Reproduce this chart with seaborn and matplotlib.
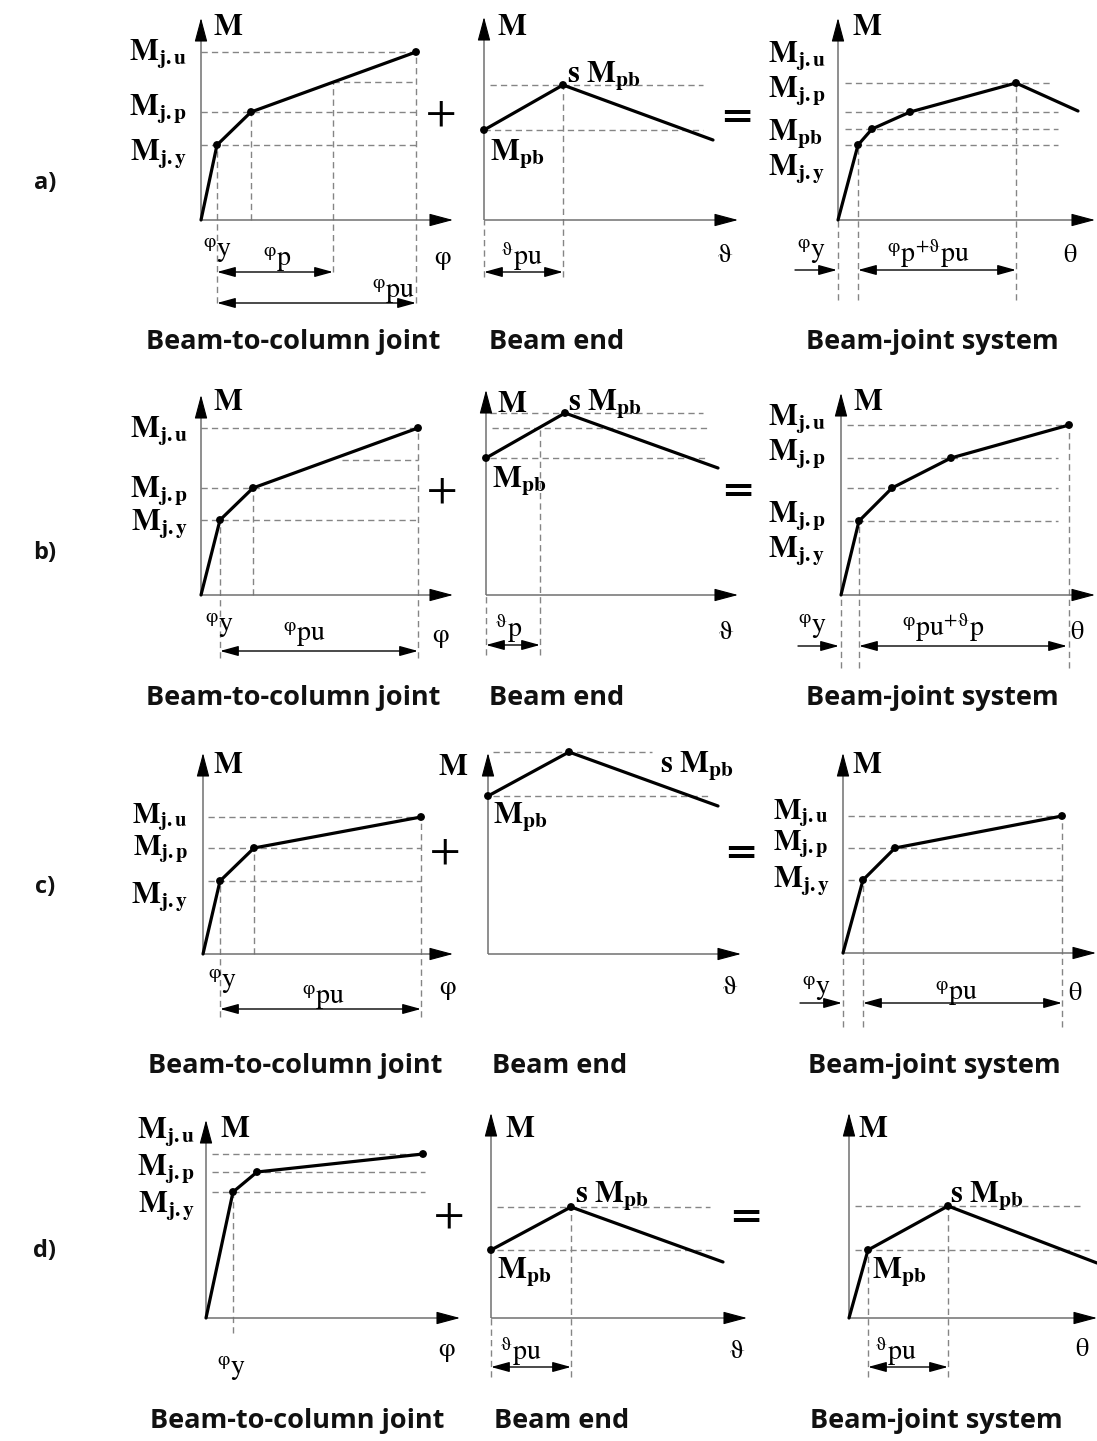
import numpy as np
import matplotlib
matplotlib.use('Agg')
import matplotlib.pyplot as plt
import seaborn as sns

# ---------------- data (arbitrary units) ----------
# row a
a_joint_phi = [0, 16, 50, 215]
a_joint_M = [0, 75, 108, 168]
a_joint_phi_p = 132
a_beam_theta = [0, 79, 229]
a_beam_M = [90, 135, 80]
a_sys_theta = [0, 20, 34, 72, 178, 240]
a_sys_M = [0, 75, 91, 108, 137, 109]
# row b
b_joint_phi = [0, 19, 52, 217]
b_joint_M = [0, 75, 107, 167]
b_joint_guide_phi = 141
b_joint_guide_M = 135
b_beam_theta = [0, 79, 232]
b_beam_M = [137, 182, 127]
b_beam_theta_p = 54
b_beam_guide_M = 167
b_sys_theta = [0, 18, 51, 110, 228]
b_sys_M = [0, 74, 107, 137, 170]
# row c
c_joint_phi = [0, 17, 51, 218]
c_joint_M = [0, 73, 106, 137]
c_beam_theta = [0, 81, 230]
c_beam_M = [158, 202, 148]
c_sys_theta = [0, 20, 52, 219]
c_sys_M = [0, 73, 105, 137]
# row d
d_joint_phi = [0, 27, 51, 217]
d_joint_M = [0, 126, 146, 164]
d_beam_theta = [0, 80, 232]
d_beam_M = [68, 111, 56]
d_sys_theta = [0, 19, 99, 248]
d_sys_M = [0, 68, 112, 55]

row_labels = ['a)', 'b)', 'c)', 'd)']
captions = ['Beam-to-column joint', 'Beam end', 'Beam-joint system']

# text strings
T_M = r'$\mathbf{M}$'
T_MJU = r'$\mathbf{M}_{\mathbf{j.u}}$'
T_MJP = r'$\mathbf{M}_{\mathbf{j.p}}$'
T_MJY = r'$\mathbf{M}_{\mathbf{j.y}}$'
T_MPB = r'$\mathbf{M}_{\mathbf{pb}}$'
T_SMPB = r'$\mathbf{s\ M}_{\mathbf{pb}}$'
T_PHI = r'$\mathrm{\varphi}$'
T_VTH = r'$\mathrm{\vartheta}$'
T_TH = r'$\mathrm{\theta}$'
T_PHIY = r'${}^{\mathrm{\varphi}}\mathrm{y}$'
T_PHIP = r'${}^{\mathrm{\varphi}}\mathrm{p}$'
T_PHIPU = r'${}^{\mathrm{\varphi}}\mathrm{pu}$'
T_VTHPU = r'${}^{\mathrm{\vartheta}}\mathrm{pu}$'
T_VTHP = r'${}^{\mathrm{\vartheta}}\mathrm{p}$'
T_PP_VPU = r'${}^{\mathrm{\varphi}}\mathrm{p}{}^{+\mathrm{\vartheta}}\mathrm{pu}$'
T_PPU_VP = r'${}^{\mathrm{\varphi}}\mathrm{pu}{}^{+\mathrm{\vartheta}}\mathrm{p}$'

# ---------------- style ----------------
sns.set_theme(style='white')
plt.rcParams['mathtext.fontset'] = 'stix'
plt.rcParams['font.family'] = ['Open Sans', 'DejaVu Sans']
plt.rcParams['text.color'] = 'black'

W, H = 1097, 1441
fig = plt.figure(figsize=(W / 100, H / 100), dpi=100)
fig.patch.set_facecolor('white')

AX_COL = '#707070'
DASH_COL = '#858585'
DASH = (0, (4.5, 3))
SZ_M = 22
SZ_GREEK = 19
SZ_SUB = 20


def panel_axes(ox, oy):
    L, R, B, T = 100, 270, 100, 225
    ax = fig.add_axes([(ox - L) / W, 1 - (oy + B) / H, (L + R) / W, (B + T) / H])
    ax.patch.set_visible(False)
    ax.set_axis_off()
    return ax, (-L, R, -B, T)


def finish(ax, lims):
    ax.set_xlim(lims[0], lims[1])
    ax.set_ylim(lims[2], lims[3])
    ax.set_axis_off()


def draw_axes(ax, xlen, ylen):
    ax.plot([0, xlen - 15], [0, 0], color=AX_COL, lw=1.1, solid_capstyle='butt', zorder=2)
    ax.plot([0, 0], [0, ylen - 15], color=AX_COL, lw=1.1, solid_capstyle='butt', zorder=2)
    head = dict(arrowstyle='-|>,head_length=0.75,head_width=0.2', color='black', lw=0.8,
                shrinkA=0, shrinkB=0, mutation_scale=20)
    ax.annotate('', xy=(xlen, 0), xytext=(xlen - 20, 0), arrowprops=head)
    ax.annotate('', xy=(0, ylen), xytext=(0, ylen - 20), arrowprops=head)


def curve(ax, xs, ys, dots):
    sns.lineplot(x=xs, y=ys, ax=ax, color='black', lw=2.3, sort=False, estimator=None,
                 legend=False, zorder=4)
    sns.scatterplot(x=[xs[i] for i in dots], y=[ys[i] for i in dots], ax=ax, color='black',
                    s=32, edgecolor='none', zorder=5, legend=False)


def hl(ax, y, x0, x1):
    ax.hlines(y, x0, x1, colors=DASH_COL, linestyles=DASH, lw=1.0, zorder=1)


def vl(ax, x, y0, y1):
    ax.vlines(x, y1, y0, colors=DASH_COL, linestyles=DASH, lw=1.0, zorder=1)


def dim(ax, y, x0, x1, both=True):
    style = '<|-|>' if both else '-|>'
    ax.annotate('', xy=(x1, y), xytext=(x0, y),
                arrowprops=dict(arrowstyle=style + ',head_length=0.8,head_width=0.22',
                                color='black', lw=1.0, shrinkA=0, shrinkB=0, mutation_scale=14))


def txt(ax, x, y, s, size=SZ_M, ha='left', va='baseline'):
    ax.text(x, y, s, fontsize=size, ha=ha, va=va, color='black')


# ================= row a =================
ax, lim = panel_axes(201, 220)
draw_axes(ax, 252, 202)
x, y = a_joint_phi, a_joint_M
curve(ax, x, y, [1, 2, 3])
mp = float(np.interp(a_joint_phi_p, x, y))
hl(ax, y[3], 0, x[3]); hl(ax, mp, a_joint_phi_p, x[3]); hl(ax, y[2], 0, x[3]); hl(ax, y[1], 0, x[3])
vl(ax, x[1], y[1], -83); vl(ax, x[2], y[2], 0); vl(ax, a_joint_phi_p, mp, -52); vl(ax, x[3], y[3], -83)
dim(ax, -52, x[1], a_joint_phi_p); dim(ax, -83, x[1], x[3])
txt(ax, 12, 185, T_M)
txt(ax, -14, 160, T_MJU, ha='right'); txt(ax, -14, 105, T_MJP, ha='right'); txt(ax, -14, 60, T_MJY, ha='right')
txt(ax, 242, -39, T_PHI, SZ_GREEK, ha='center', va='center')
txt(ax, 2, -37, T_PHIY, SZ_SUB); txt(ax, 62, -46, T_PHIP, SZ_SUB); txt(ax, 171, -78, T_PHIPU, SZ_SUB)
finish(ax, lim)

ax, lim = panel_axes(484, 220)
draw_axes(ax, 254, 203)
x, y = a_beam_theta, a_beam_M
curve(ax, x, y, [0, 1])
hl(ax, y[1], 6, 219); hl(ax, y[0], 0, 219)
vl(ax, x[1], y[1], -57); vl(ax, 0, 0, -57)
dim(ax, -52, 0, x[1])
txt(ax, 13, 185, T_M); txt(ax, 83, 138, T_SMPB); txt(ax, 6, 60, T_MPB)
txt(ax, 241, -35, T_VTH, SZ_GREEK, ha='center', va='center')
txt(ax, 17, -45, T_VTHPU, SZ_SUB)
finish(ax, lim)

ax, lim = panel_axes(838, 220)
draw_axes(ax, 257, 202)
x, y = a_sys_theta, a_sys_M
curve(ax, x, y, [1, 2, 3, 4])
hl(ax, y[4], 7, 212); hl(ax, y[3], 7, 220); hl(ax, y[2], 7, 220); hl(ax, y[1], 7, 220)
vl(ax, 0, 0, -80); vl(ax, x[1], y[1], -80); vl(ax, x[4], y[4], -80)
dim(ax, -50, -43, -1, both=False); dim(ax, -50, x[1], x[4])
txt(ax, 14, 185, T_M)
txt(ax, -70, 158, T_MJU); txt(ax, -70, 123, T_MJP); txt(ax, -70, 80, T_MPB); txt(ax, -70, 45, T_MJY)
txt(ax, -41, -38, T_PHIY, SZ_SUB); txt(ax, 49, -42, T_PP_VPU, SZ_SUB)
txt(ax, 232, -35, T_TH, SZ_GREEK, ha='center', va='center')
finish(ax, lim)

# ================= row b =================
ax, lim = panel_axes(201, 595)
draw_axes(ax, 252, 200)
x, y = b_joint_phi, b_joint_M
curve(ax, x, y, [1, 2, 3])
hl(ax, y[3], 0, x[3]); hl(ax, b_joint_guide_M, b_joint_guide_phi, x[3]); hl(ax, y[2], 0, x[3]); hl(ax, y[1], 0, x[3])
vl(ax, x[1], y[1], -63); vl(ax, x[2], y[2], 0); vl(ax, x[3], y[3], -63)
dim(ax, -56, x[1], x[3])
txt(ax, 12, 185, T_M)
txt(ax, -13, 158, T_MJU, ha='right'); txt(ax, -13, 98, T_MJP, ha='right'); txt(ax, -13, 65, T_MJY, ha='right')
txt(ax, 240, -42, T_PHI, SZ_GREEK, ha='center', va='center')
txt(ax, 4, -37, T_PHIY, SZ_SUB); txt(ax, 82, -46, T_PHIPU, SZ_SUB)
finish(ax, lim)

ax, lim = panel_axes(486, 595)
draw_axes(ax, 252, 205)
x, y = b_beam_theta, b_beam_M
curve(ax, x, y, [0, 1])
hl(ax, y[1], 4, 217); hl(ax, b_beam_guide_M, 6, 221); hl(ax, y[0], 4, 221)
vl(ax, b_beam_theta_p, b_beam_guide_M, -60); vl(ax, 0, 0, -60)
dim(ax, -50, 0, b_beam_theta_p)
txt(ax, 11, 183, T_M); txt(ax, 82, 185, T_SMPB); txt(ax, 6, 108, T_MPB)
txt(ax, 240, -37, T_VTH, SZ_GREEK, ha='center', va='center')
txt(ax, 9, -42, T_VTHP, SZ_SUB)
finish(ax, lim)

ax, lim = panel_axes(841, 595)
draw_axes(ax, 254, 202)
x, y = b_sys_theta, b_sys_M
curve(ax, x, y, [1, 2, 3, 4])
hl(ax, y[4], 6, x[4]); hl(ax, y[3], 6, 217); hl(ax, y[2], 6, 217); hl(ax, y[1], 6, 217)
vl(ax, 0, 0, -73); vl(ax, x[1], y[1], -73); vl(ax, x[4], y[4], -73)
dim(ax, -51, -43, -2, both=False); dim(ax, -51, x[1], x[4] - 2)
txt(ax, 12, 185, T_M)
txt(ax, -73, 170, T_MJU); txt(ax, -73, 135, T_MJP); txt(ax, -73, 73, T_MJP); txt(ax, -73, 38, T_MJY)
txt(ax, -43, -38, T_PHIY, SZ_SUB); txt(ax, 61, -41, T_PPU_VP, SZ_SUB)
txt(ax, 236, -37, T_TH, SZ_GREEK, ha='center', va='center')
finish(ax, lim)

# ================= row c =================
ax, lim = panel_axes(203, 954)
draw_axes(ax, 250, 201)
x, y = c_joint_phi, c_joint_M
curve(ax, x, y, [1, 2, 3])
hl(ax, y[3], 5, x[3]); hl(ax, y[2], 5, x[3]); hl(ax, y[1], 5, x[3])
vl(ax, x[1], y[1], -63); vl(ax, x[2], y[2], 0); vl(ax, x[3], y[3], -63)
dim(ax, -55, x[1], x[3])
txt(ax, 10, 181, T_M)
txt(ax, -15, 131, T_MJU, ha='right', size=21); txt(ax, -15, 99, T_MJP, ha='right', size=21)
txt(ax, -15, 51, T_MJY, ha='right')
txt(ax, 245, -36, T_PHI, SZ_GREEK, ha='center', va='center')
txt(ax, 5, -34, T_PHIY, SZ_SUB); txt(ax, 99, -50, T_PHIPU, SZ_SUB)
finish(ax, lim)

ax, lim = panel_axes(488, 954)
draw_axes(ax, 253, 201)
x, y = c_beam_theta, c_beam_M
curve(ax, x, y, [0, 1])
hl(ax, y[1], 5, 164); hl(ax, y[0], 5, 222)
txt(ax, -50, 179, T_M); txt(ax, 172, 182, T_SMPB); txt(ax, 5, 131, T_MPB)
txt(ax, 242, -33, T_VTH, SZ_GREEK, ha='center', va='center')
finish(ax, lim)

ax, lim = panel_axes(843, 953)
draw_axes(ax, 253, 200)
x, y = c_sys_theta, c_sys_M
curve(ax, x, y, [1, 2, 3])
hl(ax, y[3], 5, x[3]); hl(ax, y[2], 5, 217); hl(ax, y[1], 5, x[3])
vl(ax, 0, 0, -74); vl(ax, x[1], y[1], -74); vl(ax, x[3], y[3], -74)
dim(ax, -50, -43, -1, both=False); dim(ax, -50, x[1], x[3])
txt(ax, 9, 180, T_M)
txt(ax, -70, 134, T_MJU, size=21); txt(ax, -70, 103, T_MJP, size=21); txt(ax, -70, 66, T_MJY)
txt(ax, -41, -42, T_PHIY, SZ_SUB); txt(ax, 92, -47, T_PHIPU, SZ_SUB)
txt(ax, 232, -40, T_TH, SZ_GREEK, ha='center', va='center')
finish(ax, lim)

# ================= row d =================
ax, lim = panel_axes(206, 1318)
draw_axes(ax, 254, 198)
x, y = d_joint_phi, d_joint_M
curve(ax, x, y, [1, 2, 3])
hl(ax, y[3], 6, x[3]); hl(ax, y[2], 6, 219); hl(ax, y[1], 6, 219)
vl(ax, x[1], y[1], -15)
txt(ax, 14, 181, T_M)
txt(ax, -11, 180, T_MJU, ha='right'); txt(ax, -11, 143, T_MJP, ha='right'); txt(ax, -11, 106, T_MJY, ha='right')
txt(ax, 11, -57, T_PHIY, SZ_SUB)
txt(ax, 241, -34, T_PHI, SZ_GREEK, ha='center', va='center')
finish(ax, lim)

ax, lim = panel_axes(491, 1318)
draw_axes(ax, 256, 205)
x, y = d_beam_theta, d_beam_M
curve(ax, x, y, [0, 1])
hl(ax, y[1], 6, 219); hl(ax, y[0], 6, 222)
vl(ax, x[1], y[1], -59); vl(ax, 0, 0, -59)
dim(ax, -49, 0, x[1])
txt(ax, 14, 181, T_M); txt(ax, 84, 116, T_SMPB); txt(ax, 6, 40, T_MPB)
txt(ax, 246, -34, T_VTH, SZ_GREEK, ha='center', va='center')
txt(ax, 9, -42, T_VTHPU, SZ_SUB)
finish(ax, lim)

ax, lim = panel_axes(849, 1318)
draw_axes(ax, 248, 205)
x, y = d_sys_theta, d_sys_M
curve(ax, x, y, [1, 2])
hl(ax, y[2], 6, 234); hl(ax, y[1], 6, 240)
vl(ax, x[1], y[1], -59); vl(ax, x[2], y[2], -59)
dim(ax, -49, x[1], x[2])
txt(ax, 9, 181, T_M); txt(ax, 101, 116, T_SMPB); txt(ax, 23, 40, T_MPB)
txt(ax, 233, -32, T_TH, SZ_GREEK, ha='center', va='center')
txt(ax, 26, -42, T_VTHPU, SZ_SUB)
finish(ax, lim)

# ---------------- operators, captions, row labels (layout in pixels) -----------
def ftext(px, py, s, **kw):
    fig.text(px / W, 1 - py / H, s, **kw)

plus_pos = [(440, 113), (441, 490), (444, 851), (448, 1215)]
eq_pos = [(733, 114), (734, 488), (737, 850), (742, 1214)]
for (px, py) in plus_pos:
    ftext(px, py, r'$+$', fontsize=32, ha='center', va='center')
for (px, py) in eq_pos:
    ftext(px, py, r'$\mathbf{=}$', fontsize=30, ha='center', va='center')

row_y = [183, 553, 887, 1251]
for lab, ry in zip(row_labels, row_y):
    ftext(45, ry, lab, fontsize=17, fontweight='bold', ha='center', va='center', color='#111111')

cap_y = [342, 698, 1066, 1421]
cap_x = [[293, 557, 932], [293, 557, 932], [295, 560, 934], [297, 562, 936]]
for cy, cxs in zip(cap_y, cap_x):
    for cap, cx in zip(captions, cxs):
        ftext(cx, cy, cap, fontsize=19.5, fontweight='bold', ha='center', va='center',
              color='#111111')

fig.savefig('out.png', dpi=100, facecolor='white')
